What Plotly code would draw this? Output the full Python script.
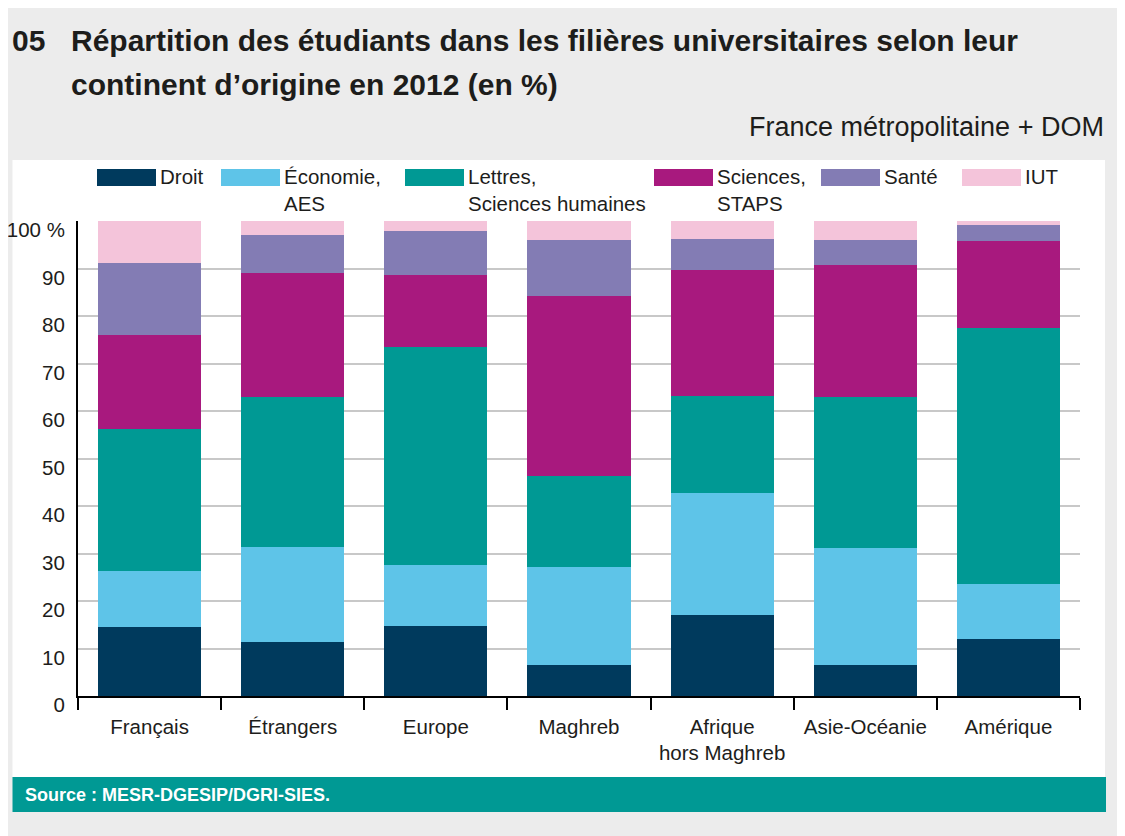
import plotly.graph_objects as go

# data (% of students per origin)
origins = ["Français", "Étrangers", "Europe", "Maghreb",
           "Afrique<br>hors Maghreb", "Asie-Océanie", "Amérique"]

droit = [14.5, 11.4, 14.8, 6.5, 17.1, 6.5, 11.9]
economie = [11.8, 19.9, 12.7, 20.7, 25.7, 24.7, 11.7]
lettres = [30.0, 31.6, 46.0, 19.2, 20.3, 31.7, 53.9]
sciences = [19.6, 26.1, 15.2, 37.9, 26.5, 27.8, 18.2]
sante = [15.3, 8.0, 9.2, 11.8, 6.7, 5.4, 3.4]
iut = [8.8, 3.0, 2.1, 3.9, 3.7, 3.9, 0.9]

series_names = ["Droit", "Économie,<br>AES", "Lettres,<br>Sciences humaines",
                "Sciences,<br>STAPS", "Santé", "IUT"]
series_values = [droit, economie, lettres, sciences, sante, iut]
series_colors = ["#003a5d", "#5ec4e8", "#009994", "#a8197e", "#837cb4", "#f4c4da"]

y_ticks = [0, 10, 20, 30, 40, 50, 60, 70, 80, 90, 100]
y_ticktext = ["0", "10", "20", "30", "40", "50", "60", "70", "80", "90", "100 %"]

title_lines = ["Répartition des étudiants dans les filières universitaires selon leur",
               "continent d’origine en 2012 (en %)"]

FONT = "Liberation Sans, Arial, Helvetica, sans-serif"
INK = "#1d1d1b"
W, H = 1125, 836
OFF = 8  # page body margin in the screenshot

# plot area in screenshot pixels, used to place the decoration in paper coords
PL, PR, PT, PB = 78, 1080, 221, 696


def px(x):
    return (x - PL) / (PR - PL)


def py(y):
    return (PB - y) / (PB - PT)


fig = go.Figure()
for name, vals, col in zip(series_names, series_values, series_colors):
    fig.add_trace(go.Bar(x=origins, y=vals, name=name.replace("<br>", " "),
                         marker=dict(color=col, line=dict(width=0)),
                         showlegend=False))

shapes = [
    # white panel
    dict(type="rect", xref="paper", yref="paper", layer="below",
         x0=px(12.5), x1=px(1105), y0=py(160), y1=py(777),
         fillcolor="white", line=dict(width=0)),
    # source band
    dict(type="rect", xref="paper", yref="paper",
         x0=px(12.5), x1=px(1106), y0=py(777), y1=py(812),
         fillcolor="#009994", line=dict(width=0)),
]
annotations = [
    dict(text="<b>05</b>", x=px(10), y=py(59), xref="paper", yref="paper",
         xanchor="left", yanchor="bottom", showarrow=False,
         font=dict(size=30, color=INK, family=FONT)),
    dict(text="France métropolitaine + DOM", x=px(1106), y=py(127),
         xref="paper", yref="paper", xanchor="right", yanchor="middle",
         showarrow=False, font=dict(size=27, color=INK, family=FONT)),
    dict(text="<b>Source : MESR-DGESIP/DGRI-SIES.</b>", x=px(23), y=py(795),
         xref="paper", yref="paper", xanchor="left", yanchor="middle",
         showarrow=False, font=dict(size=18, color="white", family=FONT)),
]
for i, line in enumerate(title_lines):
    annotations.append(dict(text="<b>" + line + "</b>", x=px(69), y=py(59 + 44.5 * i),
                            xref="paper", yref="paper", xanchor="left",
                            yanchor="bottom", showarrow=False,
                            font=dict(size=30, color=INK, family=FONT)))

# hand-built legend with wide swatches
legend_x = [97, 221, 405, 654, 821, 962]
for lx, name, col in zip(legend_x, series_names, series_colors):
    shapes.append(dict(type="rect", xref="paper", yref="paper",
                       x0=px(lx), x1=px(lx + 59), y0=py(186), y1=py(169),
                       fillcolor=col, line=dict(width=0)))
    annotations.append(dict(text=name, x=px(lx + 61), y=py(163),
                            xref="paper", yref="paper", align="left",
                            xanchor="left", yanchor="top", showarrow=False,
                            font=dict(size=20.5, color=INK, family=FONT)))

fig.update_layout(
    width=W, height=H,
    margin=dict(l=PL - OFF, r=W - (PR - OFF), t=PT - OFF, b=H - (PB - OFF), pad=0),
    barmode="stack", bargap=0.28,
    paper_bgcolor="#ececec", plot_bgcolor="white",
    font=dict(family=FONT, size=21, color=INK),
    shapes=shapes, annotations=annotations,
)
fig.update_xaxes(showline=True, linecolor="black", linewidth=2,
                 ticks="outside", tickson="boundaries", ticklen=12,
                 tickwidth=2, tickcolor="black", showgrid=False,
                 tickangle=0, automargin=False, ticklabelstandoff=11,
                 tickfont=dict(size=20.5, color=INK, family=FONT))
fig.update_yaxes(range=[0, 100], tickvals=y_ticks, ticktext=y_ticktext,
                 showgrid=True, gridcolor="#c8c8c8", gridwidth=1.5,
                 showline=True, linecolor="black", linewidth=2,
                 zeroline=False, ticks="", ticklabelstandoff=7,
                 ticklabelshift=9, automargin=False,
                 tickfont=dict(size=20.5, color=INK, family=FONT))

fig.write_html("out.html")
